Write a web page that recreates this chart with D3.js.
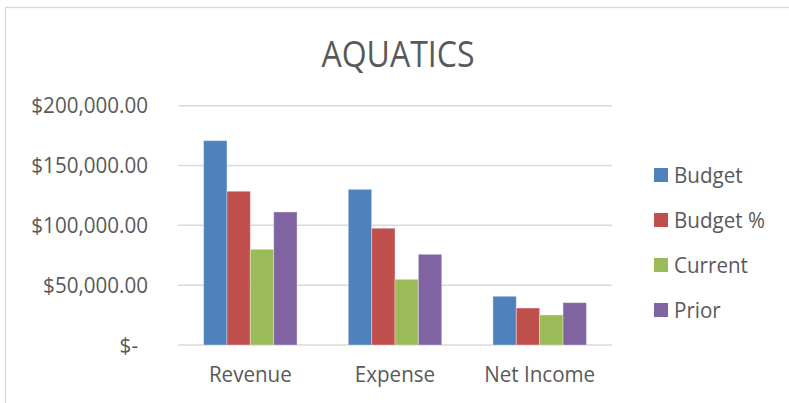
<!DOCTYPE html>
<html>
<head>
<meta charset="UTF-8">
<title>AQUATICS</title>
<style>
    body { margin: 0; background: #fff; }
    svg { display: block; font-family: "Open Sans", "Noto Sans", sans-serif; }
    .frame { fill: #fff; stroke: #d9d9d9; stroke-width: 1.3px; }
    .grid line { stroke: #d9d9d9; stroke-width: 1.5px; }
    .lbl { fill: #595959; }
</style>
</head>
<body>
<svg id="chart" width="789" height="403"></svg>
<script src="https://cdn.jsdelivr.net/npm/d3@7"></script>
<script>
// data
var categories = ["Revenue", "Expense", "Net Income"];
var seriesNames = ["Budget", "Budget %", "Current", "Prior"];
var budget    = [170800, 130100, 40700];
var budgetPct = [128500, 97600, 30900];
var current   = [80000, 54900, 25100];
var prior     = [111200, 75800, 35400];
var yTicks = [0, 50000, 100000, 150000, 200000];
var colors = ["#4f81bd", "#c0504d", "#9bbb59", "#8064a2"];

var series = [budget, budgetPct, current, prior];

var svg = d3.select("#chart");
var margin = { left: 178, right: 612, top: 105.7, bottom: 345 };

// chart frame (right/bottom edges fall outside the picture)
svg.append("rect").attr("class", "frame")
    .attr("x", 5.5).attr("y", 7.5).attr("width", 800).attr("height", 420);

var x0 = d3.scaleBand().domain(categories)
    .range([margin.left, margin.right])
    .paddingInner(0.354).paddingOuter(0.177);
var x1 = d3.scaleBand().domain(seriesNames).range([0, x0.bandwidth()]);
var y = d3.scaleLinear().domain([0, 200000]).range([margin.bottom, margin.top]);

// condense text a little, Calibri is narrow
function squeeze(sel, f) {
    sel.each(function () {
        var w = this.getComputedTextLength();
        d3.select(this).attr("textLength", w * f).attr("lengthAdjust", "spacingAndGlyphs");
    });
}

// gridlines
var grid = svg.append("g").attr("class", "grid");
grid.selectAll("line").data(yTicks).join("line")
    .attr("x1", margin.left).attr("x2", margin.right)
    .attr("y1", d => y(d)).attr("y2", d => y(d));

// y labels
var fmt = d3.format("$,.2f");
svg.append("g").selectAll("text").data(yTicks).join("text")
    .attr("class", "lbl")
    .attr("x", d => d === 0 ? 138 : 148)
    .attr("y", d => y(d))
    .attr("dy", "0.36em")
    .attr("text-anchor", "end")
    .style("font-size", "21px")
    .text(d => d === 0 ? "$-" : fmt(d))
    .call(squeeze, 0.98);

// bars
var groups = svg.append("g").selectAll("g").data(categories).join("g")
    .attr("transform", d => "translate(" + x0(d) + ",0)");
groups.selectAll("rect")
    .data((c, i) => seriesNames.map((s, j) => ({ s: s, v: series[j][i], c: colors[j] })))
    .join("rect")
    .attr("x", d => x1(d.s))
    .attr("width", x1.bandwidth())
    .attr("y", d => y(d.v))
    .attr("height", d => y(0) - y(d.v))
    .attr("fill", d => d.c)
    .attr("stroke", "rgba(255,255,255,0.35)")
    .attr("stroke-width", 1);

// x labels
svg.append("g").selectAll("text").data(categories).join("text")
    .attr("class", "lbl")
    .attr("x", d => x0(d) + x0.bandwidth() / 2)
    .attr("y", 382)
    .attr("text-anchor", "middle")
    .style("font-size", "21px")
    .text(d => d)
    .call(squeeze, 0.98);

// title
svg.append("text").attr("class", "lbl")
    .attr("x", 398).attr("y", 67)
    .attr("text-anchor", "middle")
    .style("font-size", "36px")
    .text("AQUATICS")
    .call(squeeze, 0.89);

// legend
var legend = svg.append("g").selectAll("g").data(seriesNames).join("g")
    .attr("transform", (d, i) => "translate(654," + (175 + i * 45) + ")");
legend.append("rect")
    .attr("x", 0).attr("y", -7).attr("width", 14).attr("height", 14)
    .attr("fill", (d, i) => colors[i]);
legend.append("text").attr("class", "lbl")
    .attr("x", 20).attr("y", 0).attr("dy", "0.36em")
    .style("font-size", "21px")
    .text(d => d)
    .call(squeeze, 0.98);
</script>
</body>
</html>
